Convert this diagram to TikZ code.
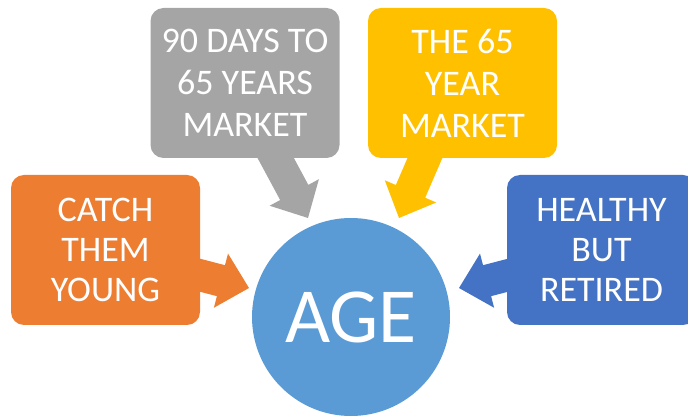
\documentclass[tikz,border=0pt]{standalone}
\usepackage{fontspec}
\setmainfont{Carlito}
\usetikzlibrary{calc}
\definecolor{corange}{HTML}{ED7D31}
\definecolor{cgray}{HTML}{A5A5A5}
\definecolor{cyellow}{HTML}{FFC000}
\definecolor{cblue}{HTML}{4472C4}
\definecolor{ccircle}{HTML}{5B9BD5}
\newcommand\blockarr[3]{%
  \path coordinate (hb) at ($(#3)!29pt!(#2)$);
  \fill[#1] ($(#2)!16pt!90:(#3)$) -- ($(hb)!16pt!90:(#3)$) -- ($(hb)!28pt!90:(#3)$)
    -- (#3) -- ($(hb)!28pt!-90:(#3)$) -- ($(hb)!16pt!-90:(#3)$) -- ($(#2)!16pt!-90:(#3)$) -- cycle;
}
\tikzset{
  box/.style={rounded corners=13pt, minimum width=189pt, minimum height=150pt,
    text=white, align=center, inner sep=0pt,
    font=\fontsize{36}{40}\selectfont},
}
\begin{document}
\begin{tikzpicture}[x=1pt,y=-1pt]
\useasboundingbox (0,0) rectangle (688,419);
% arrow anchor coordinates
\coordinate (gs) at (266,140);  \coordinate (gt) at (308,218);
\coordinate (ys) at (434,137);  \coordinate (yt) at (399,218);
\coordinate (os) at (180,270);  \coordinate (ot) at (249,288);
\coordinate (bs) at (528,270);  \coordinate (bt) at (459,288);
\blockarr{cgray}{gs}{gt}
\blockarr{cyellow}{ys}{yt}
\blockarr{corange}{os}{ot}
\blockarr{cblue}{bs}{bt}
% boxes
\node[box, fill=corange] (young) at (105.5,250) {CATCH\\THEM\\YOUNG};
\node[box, fill=cgray, font=\fontsize{36}{42}\selectfont] (ninety) at (245,83) {90 DAYS TO\\65 YEARS\\MARKET};
\node[box, fill=cyellow, font=\fontsize{36}{42}\selectfont] (sixtyfive) at (462.5,83) {THE 65\\YEAR\\MARKET};
\node[box, fill=cblue] (healthy) at (601.5,250) {HEALTHY\\BUT\\RETIRED};
% centre circle
\node[circle, fill=ccircle, minimum size=198pt, inner sep=0pt, text=white,
  font=\fontsize{78}{80}\selectfont] (age) at (351,317) {AGE};
\end{tikzpicture}
\end{document}
